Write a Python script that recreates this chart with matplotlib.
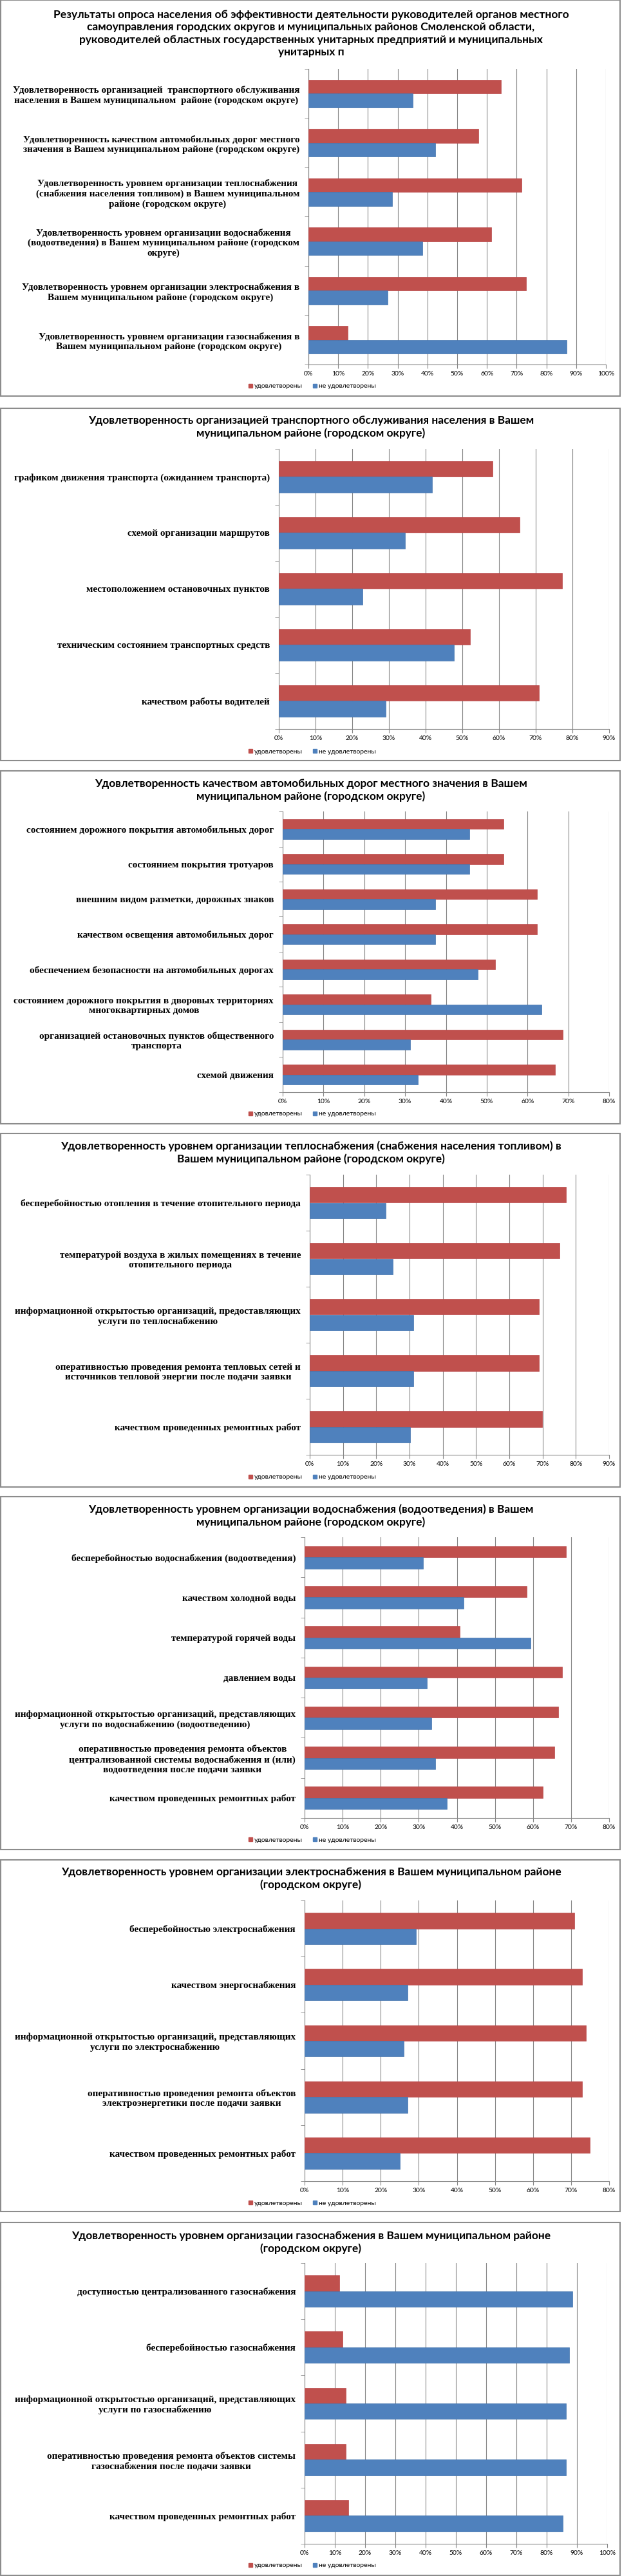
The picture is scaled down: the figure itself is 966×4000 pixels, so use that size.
import matplotlib
matplotlib.use('Agg')
from matplotlib import pyplot as plt
from matplotlib import ticker
from matplotlib.patches import Rectangle, Patch

# --- data ---
title_total = ("Результаты опроса населения об эффективности деятельности руководителей органов местного\n"
               "самоуправления городских округов и муниципальных районов Смоленской области,\n"
               "руководителей областных государственных унитарных предприятий и муниципальных\n"
               "унитарных п")
labels_total = [
    "Удовлетворенность организацией  транспортного обслуживания\nнаселения в Вашем муниципальном  районе (городском округе)",
    "Удовлетворенность качеством автомобильных дорог местного\nзначения в Вашем муниципальном районе (городском округе)",
    "Удовлетворенность уровнем организации теплоснабжения\n(снабжения населения топливом) в Вашем муниципальном\nрайоне (городском округе)",
    "Удовлетворенность уровнем организации водоснабжения\n(водоотведения) в Вашем муниципальном районе (городском\nокруге)",
    "Удовлетворенность уровнем организации электроснабжения в\nВашем муниципальном районе (городском округе)",
    "Удовлетворенность уровнем организации газоснабжения в\nВашем муниципальном районе (городском округе)",
]
sat_total = [64.7, 57.2, 71.7, 61.4, 73.2, 13.1]
unsat_total = [35.1, 42.7, 28.1, 38.4, 26.7, 86.8]

title_transport = ("Удовлетворенность организацией транспортного обслуживания населения в Вашем\n"
                   "муниципальном районе (городском округе)")
labels_transport = [
    "графиком движения транспорта (ожиданием транспорта)",
    "схемой организации маршрутов",
    "местоположением остановочных пунктов",
    "техническим состоянием транспортных средств",
    "качеством работы водителей",
]
sat_transport = [58.3, 65.6, 77.2, 52.1, 70.9]
unsat_transport = [41.7, 34.3, 22.8, 47.8, 29.1]

title_roads = ("Удовлетворенность качеством автомобильных дорог местного значения в Вашем\n"
               "муниципальном районе (городском округе)")
labels_roads = [
    "состоянием дорожного покрытия автомобильных дорог",
    "состоянием покрытия тротуаров",
    "внешним видом разметки, дорожных знаков",
    "качеством освещения автомобильных дорог",
    "обеспечением безопасности на автомобильных дорогах",
    "состоянием дорожного покрытия в дворовых территориях\nмногоквартирных домов",
    "организацией остановочных пунктов общественного\nтранспорта",
    "схемой движения",
]
sat_roads = [54.1, 54.1, 62.4, 62.4, 52.0, 36.3, 68.7, 66.7]
unsat_roads = [45.8, 45.8, 37.4, 37.4, 47.8, 63.5, 31.2, 33.2]

title_heat = ("Удовлетворенность уровнем организации теплоснабжения (снабжения населения топливом) в\n"
              "Вашем муниципальном районе (городском округе)")
labels_heat = [
    "бесперебойностью отопления в течение отопительного периода",
    "температурой воздуха в жилых помещениях в течение\nотопительного периода",
    "информационной открытостью организаций, предоставляющих\nуслуги по теплоснабжению",
    "оперативностью проведения ремонта тепловых сетей и\nисточников тепловой энергии после подачи заявки",
    "качеством проведенных ремонтных работ",
]
sat_heat = [77.1, 75.1, 68.9, 68.9, 69.8]
unsat_heat = [22.9, 24.9, 31.1, 31.1, 30.1]

title_water = ("Удовлетворенность уровнем организации водоснабжения (водоотведения) в Вашем\n"
               "муниципальном районе (городском округе)")
labels_water = [
    "бесперебойностью водоснабжения (водоотведения)",
    "качеством холодной воды",
    "температурой горячей воды",
    "давлением воды",
    "информационной открытостью организаций, представляющих\nуслуги по водоснабжению (водоотведению)",
    "оперативностью проведения ремонта объектов\nцентрализованной системы водоснабжения и (или)\nводоотведения после подачи заявки",
    "качеством проведенных ремонтных работ",
]
sat_water = [68.7, 58.3, 40.7, 67.7, 66.6, 65.6, 62.5]
unsat_water = [31.2, 41.7, 59.3, 32.2, 33.4, 34.4, 37.4]

title_power = ("Удовлетворенность уровнем организации электроснабжения в Вашем муниципальном районе\n"
               "(городском округе)")
labels_power = [
    "бесперебойностью электроснабжения",
    "качеством энергоснабжения",
    "информационной открытостью организаций, представляющих\nуслуги по электроснабжению",
    "оперативностью проведения ремонта объектов\nэлектроэнергетики после подачи заявки",
    "качеством проведенных ремонтных работ",
]
sat_power = [70.8, 72.9, 73.9, 72.9, 75.0]
unsat_power = [29.2, 27.0, 26.0, 27.0, 25.0]

title_gas = ("Удовлетворенность уровнем организации газоснабжения в Вашем муниципальном районе\n"
             "(городском округе)")
labels_gas = [
    "доступностью централизованного газоснабжения",
    "бесперебойностью газоснабжения",
    "информационной открытостью организаций, представляющих\nуслуги по газоснабжению",
    "оперативностью проведения ремонта объектов системы\nгазоснабжения после подачи заявки",
    "качеством проведенных ремонтных работ",
]
sat_gas = [11.4, 12.5, 13.6, 13.6, 14.5]
unsat_gas = [88.5, 87.5, 86.4, 86.4, 85.3]

series_names = ["удовлетворены", "не удовлетворены"]

RED = '#C0504D'
BLUE = '#4F81BD'
GRID = '#868686'
W, H = 966, 4000

# layout in pixels: box top, box bottom, title centre, plot top, plot bottom, plot left, plot right, xmax, legend y
panels = [
    (title_total, labels_total, sat_total, unsat_total, (0, 615, 52, 107, 566, 479, 941, 100, 600)),
    (title_transport, labels_transport, sat_transport, unsat_transport, (634, 1181, 663, 697, 1132, 433, 946, 90, 1167)),
    (title_roads, labels_roads, sat_roads, unsat_roads, (1197, 1745, 1227, 1260, 1696, 439, 946, 80, 1730)),
    (title_heat, labels_heat, sat_heat, unsat_heat, (1760, 2309, 1790, 1824, 2259, 481, 946, 90, 2294)),
    (title_water, labels_water, sat_water, unsat_water, (2324, 2872, 2354, 2387, 2823, 473, 946, 80, 2857)),
    (title_power, labels_power, sat_power, unsat_power, (2888, 3434, 2917, 2951, 3387, 473, 946, 80, 3421)),
    (title_gas, labels_gas, sat_gas, unsat_gas, (3451, 3999, 3482, 3514, 3950, 473, 943, 100, 3984)),
]

fig = plt.figure(figsize=(W / 100, H / 100), dpi=100)

def fy(py):
    return 1 - py / H

for title, labels, sat, unsat, lay in panels:
    btop, bbot, ty, ptop, pbot, pleft, pright, xmax, ly = lay

    # panel frame
    fig.patches.append(Rectangle((1 / W, fy(bbot)), 962 / W, (bbot - btop) / H,
                                 transform=fig.transFigure, fill=False,
                                 edgecolor='#8c8c8c', lw=1.5))
    fig.text(483 / W, fy(ty), title, ha='center', va='center', family='Lato',
             fontweight='bold', fontsize=12.5, linespacing=1.25)

    ax = fig.add_axes([pleft / W, fy(pbot), (pright - pleft) / W, (pbot - ptop) / H])
    n = len(labels)
    y = list(range(n))
    h = 0.28
    ax.barh([i - h / 2 for i in y], sat, height=h, color=RED, edgecolor='#b9474a', lw=0.5,
            label=series_names[0], zorder=3)
    ax.barh([i + h / 2 for i in y], unsat, height=h, color=BLUE, edgecolor='#4473ad', lw=0.5,
            label=series_names[1], zorder=3)
    ax.set_ylim(n - 0.5, -0.5)
    ax.set_xlim(0, xmax)
    ax.xaxis.set_major_locator(ticker.MultipleLocator(10))
    ax.xaxis.set_major_formatter(ticker.PercentFormatter(xmax=100, decimals=0))
    ax.grid(axis='x', color=GRID, lw=0.8, zorder=0)
    ax.set_yticks(y)
    ax.set_yticklabels(labels, family='Liberation Serif', fontweight='bold', fontsize=11,
                       multialignment='center')
    ax.set_yticks([i - 0.5 for i in range(n + 1)], minor=True)
    ax.tick_params(axis='y', which='major', length=0, pad=10)
    ax.tick_params(axis='y', which='minor', length=4, color=GRID, direction='out')
    ax.tick_params(axis='x', length=4, color=GRID, direction='out', labelsize=7.5, pad=3)
    for t in ax.get_xticklabels():
        t.set_family('Lato')
    for s in ['top', 'right']:
        ax.spines[s].set_visible(False)
    for s in ['left', 'bottom']:
        ax.spines[s].set_color(GRID)
        ax.spines[s].set_linewidth(0.8)
    ax.set_axisbelow(True)

    handles = [Patch(color=RED), Patch(color=BLUE)]
    leg = ax.legend(handles, series_names, loc='center', bbox_to_anchor=(485 / W, fy(ly)),
                    bbox_transform=fig.transFigure, ncol=2, frameon=False,
                    prop={'family': 'Lato', 'size': 7.5}, handlelength=0.6, handleheight=0.6,
                    handletextpad=0.3, columnspacing=1.5)

fig.savefig('out.png', dpi=100)
